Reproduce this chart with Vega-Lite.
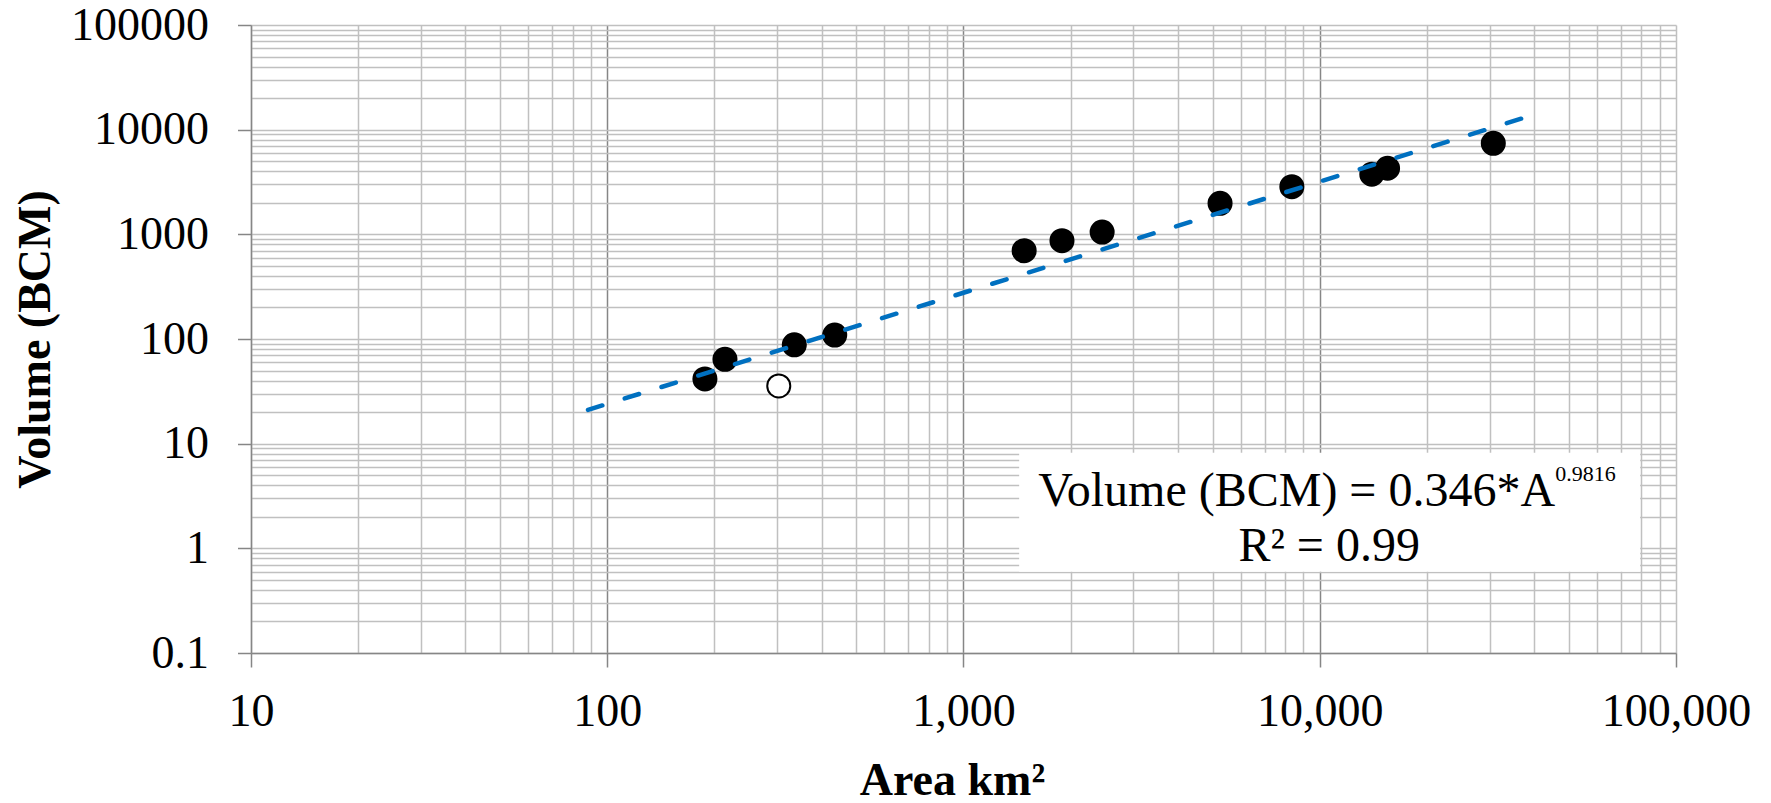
{
  "$schema": "https://vega.github.io/schema/vega-lite/v6.json",
  "width": 1425,
  "height": 628,
  "autosize": "none",
  "padding": {"left": 251, "top": 25, "right": 95, "bottom": 150},
  "background": "white",
  "config": {"view": {"stroke": null}, "font": "Liberation Serif"},
  "datasets": {
    "points": [
      {"Area": 188, "Volume": 41.5, "kind": "filled"},
      {"Area": 214, "Volume": 64, "kind": "filled"},
      {"Area": 335, "Volume": 88, "kind": "filled"},
      {"Area": 435, "Volume": 109, "kind": "filled"},
      {"Area": 1480, "Volume": 698, "kind": "filled"},
      {"Area": 1890, "Volume": 869, "kind": "filled"},
      {"Area": 2450, "Volume": 1052, "kind": "filled"},
      {"Area": 5250, "Volume": 1980, "kind": "filled"},
      {"Area": 8350, "Volume": 2850, "kind": "filled"},
      {"Area": 14000, "Volume": 3750, "kind": "filled"},
      {"Area": 15500, "Volume": 4280, "kind": "filled"},
      {"Area": 30700, "Volume": 7410, "kind": "filled"},
      {"Area": 303, "Volume": 35.6, "kind": "open"}
    ],
    "trend": [
      {"Area": 88.3, "Volume": 21.0},
      {"Area": 41100, "Volume": 14330}
    ],
    "box": [
      {"Area": 1433, "Area2": 79300, "Volume": 8.2, "Volume2": 0.598}
    ],
    "labels": [
      {"part": "main", "Area": 1621, "Volume": 2.539, "label": "Volume (BCM) = 0.346*A"},
      {"part": "sup", "Area": 45800, "Volume": 4.4, "label": "0.9816"},
      {"part": "r2", "Area": 10627, "Volume": 0.757, "label": "R² = 0.99"}
    ]
  },
  "layer": [
    {
      "data": {"name": "points"},
      "mark": {"type": "point", "shape": "circle", "filled": true, "stroke": "black", "strokeWidth": 2, "opacity": 1, "size": 531},
      "encoding": {
        "x": {
          "field": "Area", "type": "quantitative",
          "scale": {"type": "log", "domain": [10, 100000], "nice": false},
          "axis": {
            "values": [10,20,30,40,50,60,70,80,90,100,200,300,400,500,600,700,800,900,1000,2000,3000,4000,5000,6000,7000,8000,9000,10000,20000,30000,40000,50000,60000,70000,80000,90000,100000],
            "labelExpr": "indexof([10,100,1000,10000,100000], datum.value) >= 0 ? format(datum.value, ',') : ''",
            "labelFont": "Liberation Serif", "labelFontSize": 46, "labelColor": "black", "labelPadding": 22,
            "labelOverlap": false, "labelFlush": false, "labelBound": false,
            "ticks": true, "tickSize": 14, "tickColor": "#868686", "tickWidth": 1.5,
            "tickOpacity": {"condition": {"test": "indexof([10,100,1000,10000,100000], datum.value) >= 0", "value": 1}, "value": 0},
            "grid": true,
            "gridColor": {"condition": {"test": "indexof([100,1000,10000], datum.value) >= 0", "value": "#868686"}, "value": "#c0c0c0"},
            "gridWidth": 1.5,
            "domainColor": "#868686", "domainWidth": 1.5,
            "title": "Area km²", "titleFont": "Liberation Serif", "titleFontSize": 46, "titleFontWeight": "bold", "titleColor": "black",
            "titleX": 701, "titleY": 141, "titleBaseline": "alphabetic", "titleAlign": "center"
          }
        },
        "y": {
          "field": "Volume", "type": "quantitative",
          "scale": {"type": "log", "domain": [0.1, 100000], "nice": false},
          "axis": {
            "values": [0.1,0.2,0.3,0.4,0.5,0.6,0.7,0.8,0.9,1,2,3,4,5,6,7,8,9,10,20,30,40,50,60,70,80,90,100,200,300,400,500,600,700,800,900,1000,2000,3000,4000,5000,6000,7000,8000,9000,10000,20000,30000,40000,50000,60000,70000,80000,90000,100000],
            "labelExpr": "indexof([0.1,1,10,100,1000,10000,100000], datum.value) >= 0 ? (datum.value < 1 ? format(datum.value, '.1f') : format(datum.value, 'd')) : ''",
            "labelFont": "Liberation Serif", "labelFontSize": 46, "labelColor": "black", "labelPadding": 29,
            "labelOverlap": false, "labelFlush": false, "labelBound": false,
            "ticks": true, "tickSize": 13.5, "tickColor": "#868686", "tickWidth": 1.5,
            "tickOpacity": {"condition": {"test": "indexof([0.1,1,10,100,1000,10000,100000], datum.value) >= 0", "value": 1}, "value": 0},
            "grid": true, "gridColor": "#c0c0c0", "gridWidth": 1.5,
            "domainColor": "#868686", "domainWidth": 1.5,
            "title": "Volume (BCM)", "titleFont": "Liberation Serif", "titleFontSize": 46, "titleFontWeight": "bold", "titleColor": "black",
            "titleAngle": -90, "titleX": -216, "titleY": 314, "titleBaseline": "middle", "titleAlign": "center"
          }
        },
        "fill": {"field": "kind", "type": "nominal", "scale": {"domain": ["filled", "open"], "range": ["black", "white"]}, "legend": null}
      }
    },
    {
      "data": {"name": "trend"},
      "mark": {"type": "line", "color": "#0070C0", "strokeWidth": 4.5, "strokeDash": [15, 23.5], "strokeCap": "round"},
      "encoding": {
        "x": {"field": "Area", "type": "quantitative"},
        "y": {"field": "Volume", "type": "quantitative"}
      }
    },
    {
      "data": {"name": "box"},
      "mark": {"type": "rect", "fill": "white", "stroke": null},
      "encoding": {
        "x": {"field": "Area", "type": "quantitative"},
        "x2": {"field": "Area2"},
        "y": {"field": "Volume", "type": "quantitative"},
        "y2": {"field": "Volume2"}
      }
    },
    {
      "data": {"name": "labels"},
      "transform": [{"filter": "datum.part == 'main'"}],
      "mark": {"type": "text", "align": "left", "baseline": "alphabetic", "fontSize": 48, "font": "Liberation Serif", "color": "black"},
      "encoding": {
        "x": {"field": "Area", "type": "quantitative"},
        "y": {"field": "Volume", "type": "quantitative"},
        "text": {"field": "label"}
      }
    },
    {
      "data": {"name": "labels"},
      "transform": [{"filter": "datum.part == 'sup'"}],
      "mark": {"type": "text", "align": "left", "baseline": "alphabetic", "fontSize": 22, "font": "Liberation Serif", "color": "black"},
      "encoding": {
        "x": {"field": "Area", "type": "quantitative"},
        "y": {"field": "Volume", "type": "quantitative"},
        "text": {"field": "label"}
      }
    },
    {
      "data": {"name": "labels"},
      "transform": [{"filter": "datum.part == 'r2'"}],
      "mark": {"type": "text", "align": "center", "baseline": "alphabetic", "fontSize": 48, "font": "Liberation Serif", "color": "black"},
      "encoding": {
        "x": {"field": "Area", "type": "quantitative"},
        "y": {"field": "Volume", "type": "quantitative"},
        "text": {"field": "label"}
      }
    }
  ]
}
